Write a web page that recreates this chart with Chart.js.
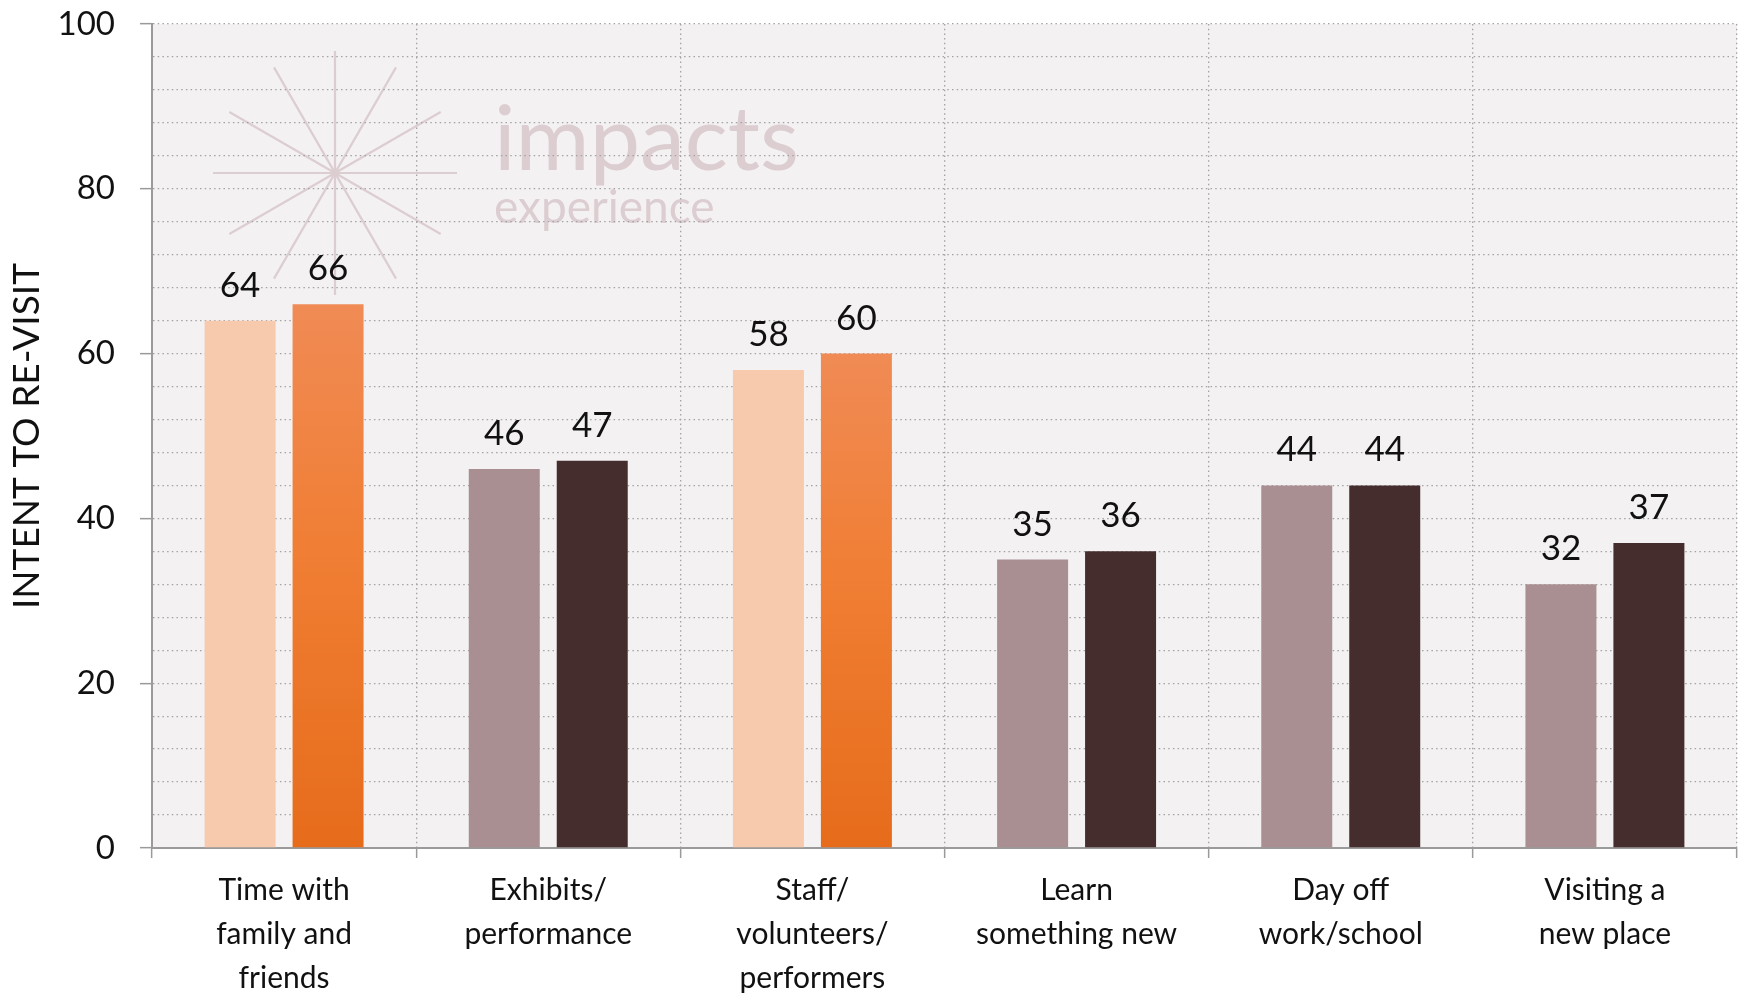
<!DOCTYPE html>
<html>
<head>
<meta charset="utf-8">
<script src="https://cdn.jsdelivr.net/npm/chart.js@4.4.1/dist/chart.umd.min.js"></script>
<style>
  html, body { margin: 0; padding: 0; background: #fff; }
  canvas { display: block; }
</style>
</head>
<body>
<canvas id="revisitChart" width="1741" height="997"></canvas>
<script>
// categories and the two series per category
const categories = [
  ['Time with', 'family and', 'friends'],
  ['Exhibits/', 'performance'],
  ['Staff/', 'volunteers/', 'performers'],
  ['Learn', 'something new'],
  ['Day off', 'work/school'],
  ['Visiting a', 'new place']
];
const seriesA = [64, 46, 58, 35, 44, 32];
const seriesB = [66, 47, 60, 36, 44, 37];
const highlighted = [true, false, true, false, false, false];
const yTicks = [0, 20, 40, 60, 80, 100];

const FONT = 'Lato, "Noto Sans", sans-serif';

const colA = highlighted.map(h => h ? '#f7caad' : '#a98f91');

// orange bars fade from light at the top to deep at the base
function colB(ctx) {
  const i = ctx.dataIndex;
  if (!highlighted[i]) return '#452d2e';
  const chart = ctx.chart;
  if (!chart.chartArea) return '#ee7a32';
  const y = chart.scales.y;
  const g = chart.ctx.createLinearGradient(0, y.getPixelForValue(seriesB[i]), 0, y.getPixelForValue(0));
  g.addColorStop(0, '#f08b55');
  g.addColorStop(0.45, '#f07e34');
  g.addColorStop(1, '#e66c1b');
  return g;
}

// plot background + faint logo behind the grid
const backdrop = {
  id: 'backdrop',
  beforeDraw(chart) {
    const { ctx, chartArea: a } = chart;
    ctx.save();
    ctx.fillStyle = '#f3f1f2';
    ctx.fillRect(a.left, a.top, a.right - a.left, a.bottom - a.top);

    const cx = a.left + 183, cy = a.top + 149, r = 122;
    ctx.strokeStyle = '#dccdd1';
    ctx.lineWidth = 2.2;
    ctx.beginPath();
    for (let k = 0; k < 6; k++) {
      const ang = k * Math.PI / 6;
      ctx.moveTo(cx - r * Math.cos(ang), cy - r * Math.sin(ang));
      ctx.lineTo(cx + r * Math.cos(ang), cy + r * Math.sin(ang));
    }
    ctx.stroke();

    ctx.fillStyle = '#dccdd1';
    ctx.textAlign = 'left';
    ctx.textBaseline = 'alphabetic';
    ctx.font = '400 90px ' + FONT;
    ctx.fillText('impacts', a.left + 342, a.top + 146);
    ctx.font = '400 46px ' + FONT;
    ctx.fillText('experience', a.left + 342, a.top + 199);
    ctx.restore();
  }
};

// value labels above each bar
const barValues = {
  id: 'barValues',
  afterDatasetsDraw(chart) {
    const { ctx } = chart;
    ctx.save();
    ctx.fillStyle = '#111';
    ctx.font = '35px ' + FONT;
    ctx.textAlign = 'center';
    ctx.textBaseline = 'alphabetic';
    chart.data.datasets.forEach((ds, di) => {
      chart.getDatasetMeta(di).data.forEach((bar, i) => {
        ctx.fillText(String(ds.data[i]), bar.x, bar.y - 24);
      });
    });
    ctx.restore();
  }
};

new Chart(document.getElementById('revisitChart'), {
  type: 'bar',
  data: {
    labels: categories,
    datasets: [
      { data: seriesA, backgroundColor: colA, categoryPercentage: 0.666, barPercentage: 0.807 },
      { data: seriesB, backgroundColor: colB, categoryPercentage: 0.666, barPercentage: 0.807 }
    ]
  },
  options: {
    responsive: false,
    animation: false,
    layout: { padding: { top: 24, right: 4, left: 0, bottom: 0 } },
    plugins: { legend: { display: false }, tooltip: { enabled: false } },
    scales: {
      x: {
        grid: {
          color: '#a3a3a3', lineWidth: 1.3, tickLength: 10,
          tickColor: '#9a9a9a', tickWidth: 1.5
        },
        border: { color: '#9a9a9a', width: 2, dash: [1.5, 3.2] },
        ticks: {
          color: '#111', padding: 10, maxRotation: 0, autoSkip: false,
          font: { family: FONT, size: 30, lineHeight: 1.47 }
        },
        afterFit: s => { s.height = 149; s.paddingLeft = 0; s.paddingRight = 0; }
      },
      y: {
        min: 0, max: 100,
        grid: {
          color: '#a3a3a3', lineWidth: 1.3, tickLength: 12, tickWidth: 1.5,
          tickColor: c => yTicks.includes(c.tick.value) ? '#9a9a9a' : 'rgba(0,0,0,0)'
        },
        border: { color: '#9a9a9a', width: 2, dash: [1.5, 3.2] },
        ticks: {
          stepSize: 4, autoSkip: false, color: '#111', padding: 25,
          font: { family: FONT, size: 33 },
          callback: v => yTicks.includes(v) ? String(v) : ''
        },
        title: {
          display: true, text: 'INTENT TO RE-VISIT', color: '#111',
          font: { family: FONT, size: 37 }, padding: { top: 5, bottom: 4 }
        },
        afterFit: s => { s.width = 152; s.paddingTop = 0; s.paddingBottom = 0; }
      }
    }
  },
  plugins: [backdrop, barValues]
});
</script>
</body>
</html>
